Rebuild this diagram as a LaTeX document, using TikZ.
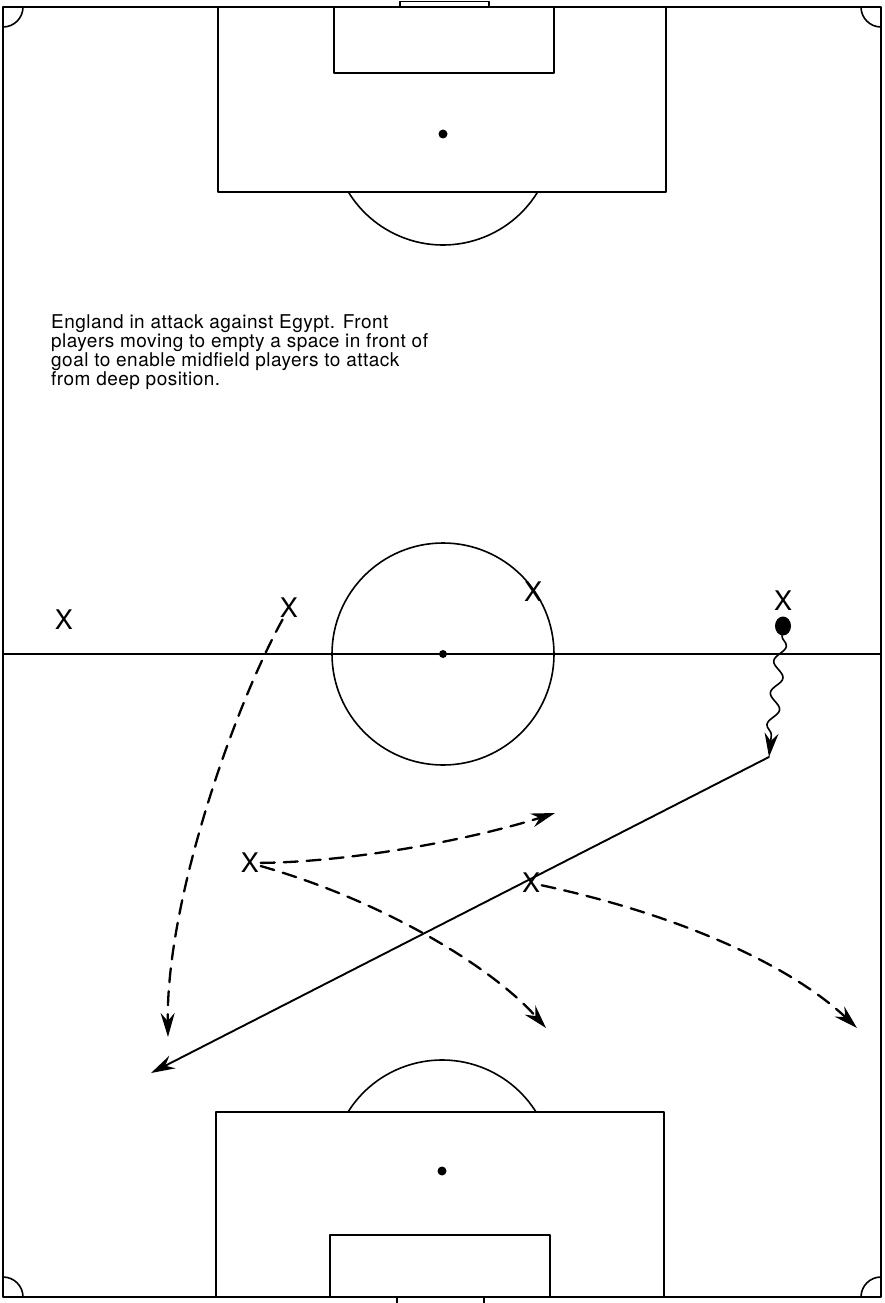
\documentclass[tikz,border=0pt]{standalone}
\usepackage{fontspec}
\setmainfont{TeX Gyre Heros}
\newfontfamily\notefont[LetterSpace=2.5]{TeX Gyre Heros}
\usetikzlibrary{arrows.meta,decorations.pathmorphing,shapes.geometric}
\begin{document}
\begin{tikzpicture}[x=1pt,y=-1pt,line join=round,line cap=round,
	>={Stealth[length=24pt,width=14pt,inset=8pt]},
	pitch/.style={line width=1.6pt},
	run/.style={->,line width=2.3pt,dash pattern=on 14pt off 9pt},
	pass/.style={->,line width=1.9pt},
	dribble/.style={->,line width=1.6pt,decorate,decoration={snake,amplitude=5.5pt,segment length=32pt,post length=16pt}},
	player/.style={inner sep=1.5pt,font=\fontsize{27}{27}\selectfont},
	ball/.style={ellipse,fill,inner sep=0pt,minimum width=16pt,minimum height=19pt}]
	\useasboundingbox (0,0) rectangle (884,1303);
	\draw[pitch] (3,7) rectangle (881,1297);
	\draw[pitch] (3,654)--(881,654);
	\draw[pitch] (443,654) circle (111);
	\fill (443,654) circle (4);
	% top half
	\draw[pitch] (400,1.5) rectangle (489,7);
	\draw[pitch] (218,7) rectangle (666,192);
	\draw[pitch] (334,7) rectangle (554,73);
	\fill (443,134) circle (4.5);
	\draw[pitch] (443,134) ++(31.5:111) arc (31.5:148.5:111);
	% bottom half
	\draw[pitch] (397,1297)--(397,1303) (484,1297)--(484,1303);
	\draw[pitch] (216,1297) rectangle (664,1112);
	\draw[pitch] (330,1297) rectangle (550,1235);
	\fill (442,1171) circle (4.5);
	\draw[pitch] (442,1171) ++(212:111) arc (212:328:111);
	% corners
	\draw[pitch] (3,27) arc (90:0:20);
	\draw[pitch] (861,7) arc (180:90:20);
	\draw[pitch] (3,1277) arc (270:360:20);
	\draw[pitch] (861,1297) arc (180:270:20);
	\node[anchor=north west,align=left,inner sep=0pt,font=\notefont\fontsize{19}{17}\selectfont] (note) at (51,314)
		{England in attack against Egypt. Front\\players moving to empty a space in front of\\goal to enable midfield players to attack\\from deep position.};
	\node[player] (x1) at (64,620) {X};
	\node[player] (x2) at (289,608) {X};
	\node[player] (x3) at (533,592) {X};
	\node[player] (x4) at (783,601) {X};
	\node[player] (x5) at (250,863) {X};
	\node[player] (x6) at (531,883) {X};
	\node[ball] (ball) at (783,626) {};
	\coordinate (kick) at (769,757);
	\coordinate (t1) at (168,1037);
	\coordinate (t2) at (555,813);
	\coordinate (t3) at (546,1028);
	\coordinate (t4) at (857,1028);
	\coordinate (t5) at (151,1073);
	\draw[run] (x2) .. controls (235,705) and (166,900) .. (t1);
	\draw[run] (x5) .. controls (350,862) and (470,840) .. (t2);
	\draw[run] (x5) .. controls (380,900) and (490,965) .. (t3);
	\draw[run] (x6) .. controls (680,915) and (790,965) .. (t4);
	\draw[dribble] (ball) -- (kick);
	\draw[pass] (kick) -- (t5);
\end{tikzpicture}
\end{document}
